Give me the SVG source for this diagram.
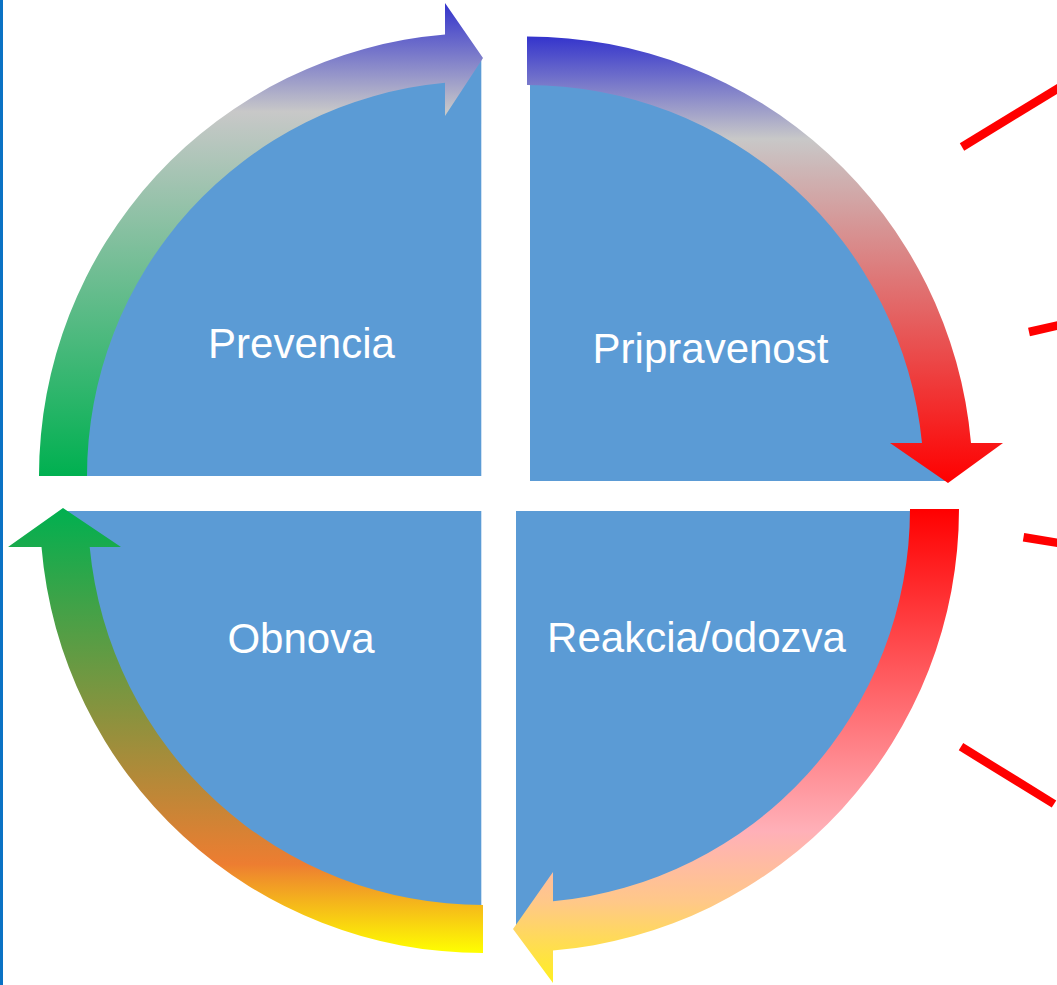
<svg xmlns="http://www.w3.org/2000/svg" width="1057" height="985" viewBox="0 0 1057 985">
<style>
.sector{fill:#5B9BD5;}
.lbl{font-family:"Liberation Sans",Arial,sans-serif;font-size:42px;fill:#FFFFFF;text-anchor:middle;}
.ray{stroke:#FF0000;stroke-width:8.5;fill:none;}
</style>
<defs>
<linearGradient id="gTL" gradientUnits="userSpaceOnUse" x1="0" y1="3" x2="0" y2="476">
<stop offset="0" stop-color="#3333CC"/>
<stop offset="0.23" stop-color="#C8C8C8"/>
<stop offset="1" stop-color="#00B050"/>
</linearGradient>
<linearGradient id="gTR" gradientUnits="userSpaceOnUse" x1="0" y1="36" x2="0" y2="483">
<stop offset="0" stop-color="#3333CC"/>
<stop offset="0.23" stop-color="#C8C8C8"/>
<stop offset="1" stop-color="#FF0000"/>
</linearGradient>
<linearGradient id="gBR" gradientUnits="userSpaceOnUse" x1="0" y1="509" x2="0" y2="983">
<stop offset="0" stop-color="#FF0000"/>
<stop offset="0.68" stop-color="#FFB0B8"/>
<stop offset="0.83" stop-color="#FFC888"/>
<stop offset="1" stop-color="#FFF020"/>
</linearGradient>
<linearGradient id="gBL" gradientUnits="userSpaceOnUse" x1="0" y1="508" x2="0" y2="953">
<stop offset="0" stop-color="#00B050"/>
<stop offset="0.8" stop-color="#ED7D31"/>
<stop offset="1" stop-color="#FFFF00"/>
</linearGradient>
</defs>
<rect x="0" y="0" width="1057" height="985" fill="#FFFFFF"/>
<rect x="0" y="0" width="3" height="985" fill="#0A72C4"/>

<g id="prevencia">
<path class="sector" d="M 481.3,476 L 62.3,476 A 419 419 0 0 1 481.3,57 Z"/>
<text class="lbl" x="301.5" y="358">Prevencia</text>
</g>
<g id="pripravenost">
<path class="sector" d="M 530,481 L 530,62 A 419 419 0 0 1 949,481 Z"/>
<text class="lbl" x="710.5" y="363">Pripravenost</text>
</g>
<g id="reakcia">
<path class="sector" d="M 516,511 L 935,511 A 419 419 0 0 1 516,930 Z"/>
<text class="lbl" x="696.5" y="652">Reakcia/odozva</text>
</g>
<g id="obnova">
<path class="sector" d="M 481.3,511 L 481.3,930 A 419 419 0 0 1 62.3,511 Z"/>
<text class="lbl" x="301" y="652.5">Obnova</text>
</g>

<g id="connectors">
<path fill="url(#gTL)" d="M 39,476 A 443 443 0 0 1 445,34.5 L 445,3 L 483,58 L 445,116 L 445,82.7 A 395 395 0 0 0 87,476 Z"/>
<path fill="url(#gTR)" d="M 527,36.5 A 445.5 445.5 0 0 1 971,443 L 1003,443 L 948,483 L 890,443 L 922,443 A 397 397 0 0 0 527,85 Z"/>
<path fill="url(#gBR)" d="M 959,509 A 443 443 0 0 1 553,950.5 L 553,983 L 513,929 L 553,872 L 553,901.3 A 394 394 0 0 0 910,509 Z"/>
<path fill="url(#gBL)" d="M 483,953 A 443 443 0 0 1 41.5,547 L 8,547 L 63,508 L 121,547 L 89.7,547 A 395 395 0 0 0 483,905 Z"/>
</g>

<g id="rays">
<line class="ray" x1="962" y1="147" x2="1062" y2="86"/>
<line class="ray" x1="1029" y1="332" x2="1062" y2="324.5"/>
<line class="ray" x1="1023.5" y1="537.3" x2="1062" y2="543.5"/>
<line class="ray" x1="961" y1="746.7" x2="1054" y2="804"/>
</g>
</svg>
